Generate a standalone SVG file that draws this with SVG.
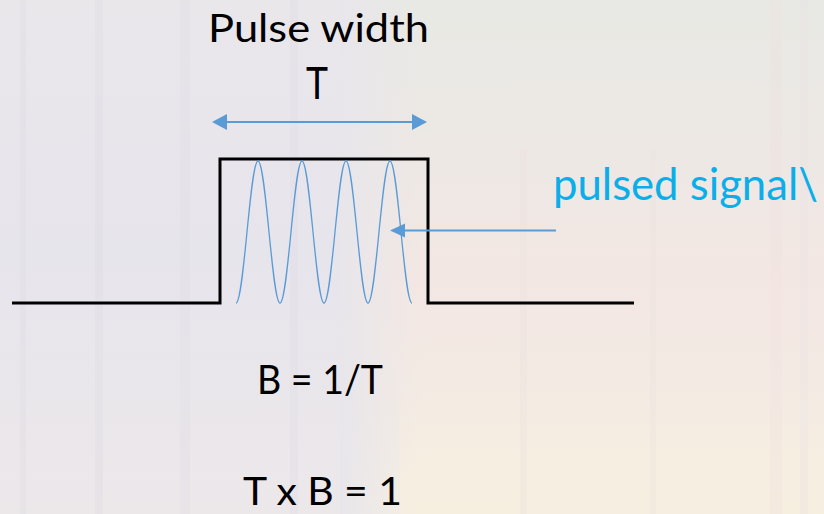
<svg xmlns="http://www.w3.org/2000/svg" width="824" height="514" viewBox="0 0 824 514">
  <defs>
    <style>
      .lbl { font-family: Lato, "Open Sans", "Liberation Sans", sans-serif; fill: #000; }
      .cyan { font-family: Lato, "Open Sans", "Liberation Sans", sans-serif; fill: #0AAFEA; }
      .conn { stroke: #5B9BD5; stroke-width: 2.2; fill: none; }
      .head { fill: #5B9BD5; }
      .sig { stroke: #000; stroke-width: 3; fill: none; stroke-linejoin: miter; }
      .wave { stroke: #5B9BD5; stroke-width: 1.3; fill: none; }
      .stripe { opacity: 0.25; }
    </style>
    <linearGradient id="bgL" x1="0" y1="0" x2="0" y2="1">
      <stop offset="0" stop-color="#E9E7EA"/>
      <stop offset="0.5" stop-color="#E7E5EC"/>
      <stop offset="1" stop-color="#ECE8EA"/>
    </linearGradient>
    <linearGradient id="bgR" x1="0" y1="0" x2="0" y2="1">
      <stop offset="0" stop-color="#E8E9E4"/>
      <stop offset="0.3" stop-color="#EDE8E4"/>
      <stop offset="0.55" stop-color="#F3E7E3"/>
      <stop offset="0.8" stop-color="#F3EBE3"/>
      <stop offset="1" stop-color="#F6EFE2"/>
    </linearGradient>
    <linearGradient id="fadeX" x1="0" y1="0" x2="1" y2="0">
      <stop offset="0" stop-color="#E8E6EB" stop-opacity="1"/>
      <stop offset="1" stop-color="#E8E6EB" stop-opacity="0"/>
    </linearGradient>
    <linearGradient id="cream" x1="0" y1="0" x2="0" y2="1">
      <stop offset="0" stop-color="#F6EEDF" stop-opacity="0"/>
      <stop offset="1" stop-color="#F6EEDF" stop-opacity="0.9"/>
    </linearGradient>
  </defs>

  <g id="background">
    <rect x="0" y="0" width="824" height="514" fill="url(#bgR)"/>
    <rect x="0" y="0" width="340" height="514" fill="url(#bgL)"/>
    <rect x="340" y="0" width="80" height="514" fill="url(#fadeX)"/>
    <rect x="400" y="380" width="424" height="134" fill="url(#cream)"/>
    <g class="stripe">
      <rect x="20" y="0" width="6" height="514" fill="#DCDAE2"/>
      <rect x="95" y="0" width="8" height="514" fill="#DAD8E0"/>
      <rect x="180" y="0" width="10" height="514" fill="#DEDBE4"/>
      <rect x="290" y="0" width="8" height="514" fill="#DCD8E4"/>
      <rect x="520" y="150" width="7" height="364" fill="#EAE0DE"/>
      <rect x="650" y="150" width="6" height="364" fill="#EBE2DE"/>
      <rect x="770" y="0" width="12" height="514" fill="#F1E0E0"/>
      <rect x="800" y="0" width="8" height="514" fill="#E9E1E6"/>
    </g>
  </g>

  <g id="pulse">
    <path class="sig" d="M12,303 H220 V159 H428 V303 H634"/>
  </g>

  <g id="wave">
    <path class="wave" d="M236,303 C244,303 250,161 258,161 S272,303 280,303 S294,161 302,161 S316,303 324,303 S338,161 346,161 S360,303 368,303 S382,161 390,161 S404,303 412,303"/>
  </g>

  <g id="connectors">
    <line class="conn" x1="224" y1="122" x2="415" y2="122"/>
    <polygon class="head" points="212,122 227,114 227,130"/>
    <polygon class="head" points="427,122 412,114 412,130"/>
    <line class="conn" x1="556" y1="230.5" x2="402" y2="230.5"/>
    <polygon class="head" points="390,230.5 405,223.5 405,237.5"/>
  </g>

  <g id="label-pulse-width">
    <text class="lbl" x="208" y="42" font-size="39" textLength="221" lengthAdjust="spacingAndGlyphs">Pulse width</text>
  </g>
  <g id="label-T">
    <text class="lbl" x="306" y="99" font-size="44" textLength="22" lengthAdjust="spacingAndGlyphs">T</text>
  </g>
  <g id="label-pulsed-signal">
    <text class="cyan" x="553" y="200" font-size="44" textLength="265" lengthAdjust="spacingAndGlyphs">pulsed signal\</text>
  </g>
  <g id="label-B">
    <text class="lbl" x="257" y="394" font-size="40" textLength="126" lengthAdjust="spacingAndGlyphs">B = 1/T</text>
  </g>
  <g id="label-TxB">
    <text class="lbl" x="243" y="505" font-size="38" textLength="159" lengthAdjust="spacingAndGlyphs">T x B = 1</text>
  </g>
</svg>
